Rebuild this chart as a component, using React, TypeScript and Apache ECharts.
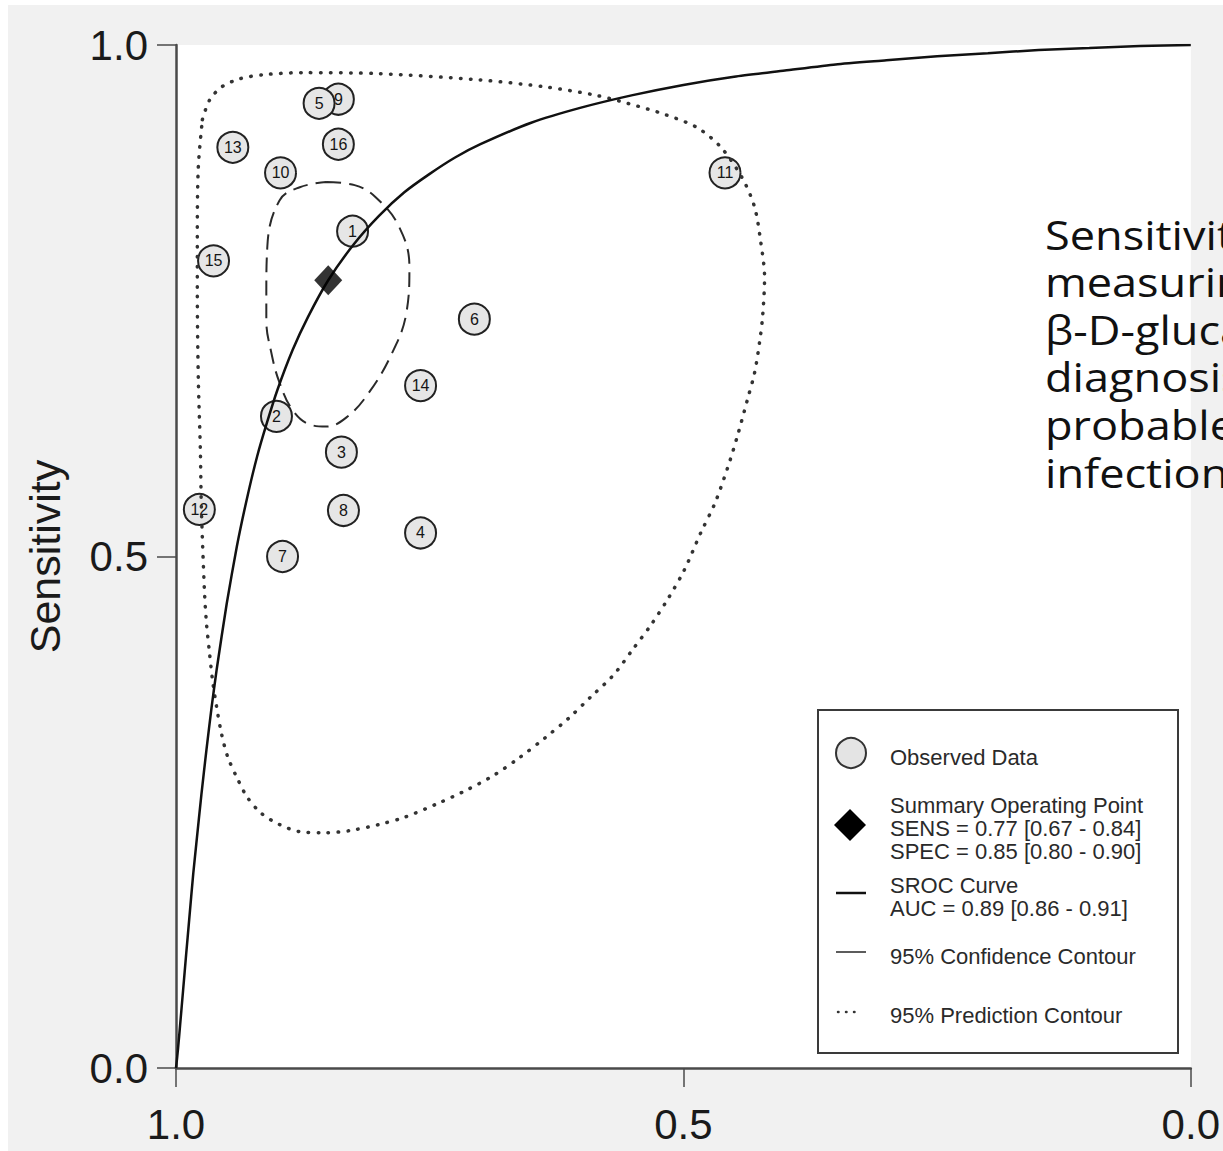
import React, { useEffect, useRef } from "react";
import * as echarts from "echarts";

// Individual studies: id, specificity, sensitivity
const studyIds = ["1", "2", "3", "4", "5", "6", "7", "8", "9", "10", "11", "12", "13", "14", "15", "16"];
const studySpec = [0.826, 0.901, 0.837, 0.759, 0.859, 0.706, 0.895, 0.835, 0.840, 0.897, 0.459, 0.977, 0.944, 0.759, 0.963, 0.840];
const studySens = [0.818, 0.637, 0.602, 0.523, 0.943, 0.732, 0.500, 0.545, 0.947, 0.875, 0.875, 0.546, 0.900, 0.667, 0.789, 0.903];

// Summary operating point with 95% CIs, and area under the SROC curve
const summarySens = 0.77;
const summarySensCI = [0.67, 0.84];
const summarySpec = 0.85;
const summarySpecCI = [0.80, 0.90];
const aucValue = 0.89;
const aucCI = [0.86, 0.91];

// SROC curve (specificity, sensitivity)
const srocSpec = [1.0, 0.999, 0.998, 0.997, 0.995, 0.993, 0.99, 0.987, 0.983, 0.98, 0.975, 0.97, 0.965, 0.96, 0.95, 0.94, 0.93, 0.92, 0.91, 0.9, 0.885, 0.87, 0.85, 0.825, 0.8, 0.775, 0.75, 0.725, 0.7, 0.65, 0.6, 0.55, 0.5, 0.45, 0.4, 0.35, 0.3, 0.25, 0.2, 0.15, 0.1, 0.05, 0.0];
const srocSens = [0.0, 0.009, 0.019, 0.030, 0.053, 0.076, 0.111, 0.145, 0.190, 0.219, 0.267, 0.311, 0.352, 0.389, 0.454, 0.510, 0.557, 0.598, 0.632, 0.663, 0.702, 0.734, 0.770, 0.805, 0.833, 0.856, 0.874, 0.890, 0.903, 0.924, 0.939, 0.951, 0.961, 0.969, 0.975, 0.981, 0.985, 0.989, 0.992, 0.995, 0.997, 0.999, 1.0];

// 95% confidence contour around the summary point
const confSpec = [0.852, 0.824, 0.803, 0.780, 0.770, 0.773, 0.787, 0.810, 0.832, 0.852, 0.868, 0.885, 0.898, 0.906, 0.911, 0.911, 0.910, 0.898, 0.878, 0.852];
const confSens = [0.866, 0.863, 0.851, 0.822, 0.783, 0.738, 0.699, 0.660, 0.636, 0.627, 0.629, 0.643, 0.670, 0.699, 0.731, 0.758, 0.803, 0.848, 0.861, 0.866];

// 95% prediction contour
const predSpec = [0.974, 0.967, 0.955, 0.937, 0.913, 0.875, 0.800, 0.702, 0.636, 0.587, 0.555, 0.518, 0.486, 0.463, 0.442, 0.430, 0.424, 0.420, 0.422, 0.425, 0.430, 0.437, 0.447, 0.456, 0.469, 0.483, 0.499, 0.515, 0.532, 0.550, 0.569, 0.591, 0.613, 0.636, 0.662, 0.687, 0.713, 0.741, 0.775, 0.800, 0.829, 0.852, 0.878, 0.898, 0.916, 0.930, 0.940, 0.949, 0.955, 0.960, 0.964, 0.967, 0.970, 0.972, 0.975, 0.976, 0.978, 0.979, 0.979, 0.978, 0.974];
const predSens = [0.927, 0.946, 0.959, 0.967, 0.971, 0.973, 0.972, 0.966, 0.959, 0.951, 0.943, 0.932, 0.919, 0.900, 0.870, 0.842, 0.809, 0.773, 0.734, 0.709, 0.679, 0.653, 0.617, 0.588, 0.552, 0.523, 0.487, 0.459, 0.433, 0.409, 0.384, 0.363, 0.342, 0.323, 0.303, 0.286, 0.272, 0.259, 0.245, 0.238, 0.232, 0.230, 0.231, 0.238, 0.249, 0.265, 0.284, 0.304, 0.326, 0.353, 0.379, 0.406, 0.435, 0.467, 0.548, 0.604, 0.673, 0.758, 0.816, 0.881, 0.927];

const axisTicks = [0, 0.5, 1];
const axisTitle = "Sensitivity";

// Side note beside the plot
const noteLines = ["Sensitivity", "measuring", "β-D-glucan", "diagnosis", "probable", "infection"];

const FONT = '"Liberation Sans", Arial, sans-serif';
const NOTE_FONT = '"Open Sans", "Noto Sans", sans-serif';

const fmt = (v: number) => v.toFixed(2);

function buildOption() {
  const pairs = (xs: number[], ys: number[]) => xs.map((x, i) => [x, ys[i]]);

  // later studies are drawn first so that study 5 lies above study 9
  const studyData = studyIds
    .map((id, i) => [studySpec[i], studySens[i], id])
    .reverse();

  const legendTextStyle = {
    fontFamily: FONT,
    fontSize: 22,
    fill: "#2a2a2a",
    lineHeight: 23,
    verticalAlign: "middle",
    align: "left",
  };

  const graphicElements: any[] = [
    // thin light border strips of the page
    { type: "rect", shape: { x: 0, y: 0, width: 8, height: 1151 }, style: { fill: "#ffffff" }, silent: true, z: 0 },
    { type: "rect", shape: { x: 0, y: 0, width: 1223, height: 5 }, style: { fill: "#ffffff" }, silent: true, z: 0 },
    // legend box
    {
      type: "rect",
      shape: { x: 818, y: 710, width: 360, height: 343 },
      style: { fill: "#ffffff", stroke: "#3a3a3a", lineWidth: 2 },
      z: 20,
    },
    {
      type: "circle",
      shape: { cx: 851, cy: 753, r: 15 },
      style: { fill: "#e4e4e4", stroke: "#333", lineWidth: 2 },
      z: 21,
    },
    { type: "text", x: 890, y: 757, style: { ...legendTextStyle, text: "Observed Data" }, z: 21 },
    {
      type: "polygon",
      shape: { points: [[850, 809], [866, 825], [850, 841], [834, 825]] },
      style: { fill: "#000" },
      z: 21,
    },
    {
      type: "text",
      x: 890,
      y: 828,
      style: {
        ...legendTextStyle,
        text:
          "Summary Operating Point\n" +
          `SENS = ${fmt(summarySens)} [${fmt(summarySensCI[0])} - ${fmt(summarySensCI[1])}]\n` +
          `SPEC = ${fmt(summarySpec)} [${fmt(summarySpecCI[0])} - ${fmt(summarySpecCI[1])}]`,
      },
      z: 21,
    },
    {
      type: "line",
      shape: { x1: 836, y1: 893, x2: 866, y2: 893 },
      style: { stroke: "#111", lineWidth: 2.5 },
      z: 21,
    },
    {
      type: "text",
      x: 890,
      y: 897,
      style: {
        ...legendTextStyle,
        text: `SROC Curve\nAUC = ${fmt(aucValue)} [${fmt(aucCI[0])} - ${fmt(aucCI[1])}]`,
      },
      z: 21,
    },
    {
      type: "line",
      shape: { x1: 836, y1: 952, x2: 866, y2: 952 },
      style: { stroke: "#333", lineWidth: 1.6 },
      z: 21,
    },
    { type: "text", x: 890, y: 956, style: { ...legendTextStyle, text: "95% Confidence Contour" }, z: 21 },
    {
      type: "line",
      shape: { x1: 838, y1: 1012, x2: 858, y2: 1012 },
      style: { stroke: "#333", lineWidth: 2.5, lineDash: [0.5, 7.5], lineCap: "round" },
      z: 21,
    },
    { type: "text", x: 890, y: 1015, style: { ...legendTextStyle, text: "95% Prediction Contour" }, z: 21 },
  ];

  noteLines.forEach((line, i) => {
    graphicElements.push({
      type: "text",
      x: 1045,
      y: 234 + i * 47.6,
      scaleX: 1.1,
      style: {
        text: line,
        fontFamily: NOTE_FONT,
        fontSize: 41,
        fill: "#111",
        verticalAlign: "middle",
        align: "left",
      },
      z: 22,
    });
  });

  const axisLine = { show: true, onZero: false, lineStyle: { color: "#4a4a4a", width: 2.5 } };
  const axisTick = { show: true, length: 19, lineStyle: { color: "#4a4a4a", width: 1.5 } };
  const tickFormatter = (v: number) => (axisTicks.includes(v) ? v.toFixed(1) : "");

  return {
    animation: false,
    backgroundColor: "#f1f1f1",
    grid: {
      left: 176,
      right: 28,
      top: 45,
      bottom: 83,
      show: true,
      backgroundColor: "#ffffff",
      borderWidth: 0,
    },
    xAxis: {
      type: "value",
      min: 0,
      max: 1,
      interval: 0.5,
      inverse: true,
      axisLine,
      axisTick,
      splitLine: { show: false },
      axisLabel: {
        fontFamily: FONT,
        fontSize: 42,
        color: "#1a1a1a",
        margin: 35,
        formatter: tickFormatter,
      },
    },
    yAxis: {
      type: "value",
      min: 0,
      max: 1,
      interval: 0.5,
      axisLine,
      axisTick,
      splitLine: { show: false },
      axisLabel: {
        fontFamily: FONT,
        fontSize: 42,
        color: "#1a1a1a",
        margin: 28,
        padding: [18, 0, 0, 0],
        formatter: tickFormatter,
      },
      name: axisTitle,
      nameLocation: "middle",
      nameGap: 110,
      nameTextStyle: { fontFamily: FONT, fontSize: 43, color: "#1a1a1a" },
    },
    series: [
      {
        type: "scatter",
        name: "Observed Data",
        data: studyData,
        symbol: "circle",
        symbolSize: 31,
        z: 2,
        itemStyle: { color: "#e6e6e6", borderColor: "#222", borderWidth: 2, opacity: 1 },
        label: {
          show: true,
          position: "inside",
          formatter: (p: any) => p.data[2],
          fontFamily: FONT,
          fontSize: 16,
          color: "#151515",
        },
        silent: true,
      },
      {
        type: "line",
        name: "95% Prediction Contour",
        data: pairs(predSpec, predSens),
        smooth: 0.3,
        symbol: "none",
        z: 3,
        lineStyle: { color: "#333", width: 3.5, type: [0.5, 9.5], cap: "round" },
        silent: true,
      },
      {
        type: "line",
        name: "95% Confidence Contour",
        data: pairs(confSpec, confSens),
        smooth: 0.4,
        symbol: "none",
        z: 3,
        lineStyle: { color: "#2a2a2a", width: 2, type: [15, 8] },
        silent: true,
      },
      {
        type: "line",
        name: "SROC Curve",
        data: pairs(srocSpec, srocSens),
        smooth: 0.2,
        symbol: "none",
        z: 4,
        lineStyle: { color: "#111", width: 2.5 },
        silent: true,
      },
      {
        type: "scatter",
        name: "Summary Operating Point",
        data: [[summarySpec, summarySens]],
        symbol: "diamond",
        symbolSize: [28, 30],
        z: 5,
        itemStyle: { color: "#000" },
        silent: true,
      },
    ],
    graphic: { elements: graphicElements },
  };
}

export default function App() {
  const ref = useRef<HTMLDivElement>(null);

  useEffect(() => {
    document.body.style.margin = "0";
    if (!ref.current) return;
    const chart = echarts.init(ref.current, null, { renderer: "svg" });
    chart.setOption(buildOption() as any);
    return () => chart.dispose();
  }, []);

  return <div ref={ref} style={{ width: 1223, height: 1151 }} />;
}
